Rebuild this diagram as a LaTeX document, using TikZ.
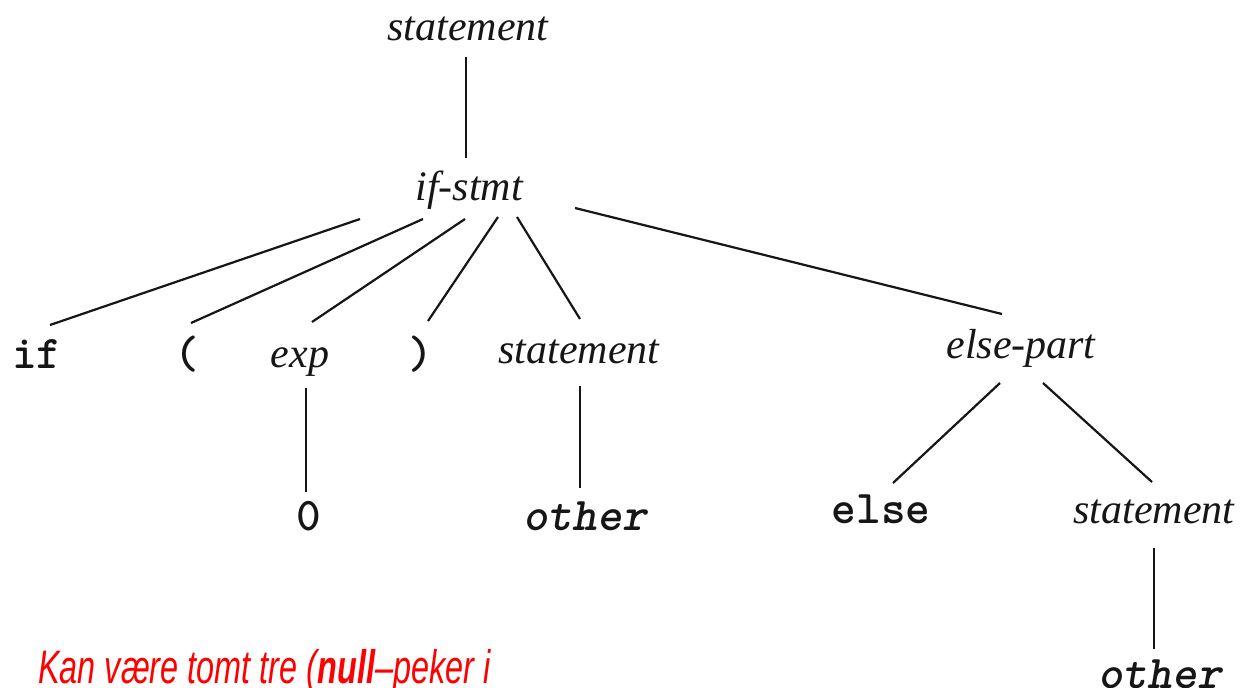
\documentclass[tikz,border=0pt]{standalone}
\usepackage{fontspec}
\setmainfont{Liberation Serif}
\newfontfamily\monof{lmmonolt10}[Extension=.otf, UprightFont=*-regular, BoldFont=*-bold, ItalicFont=*-oblique, BoldItalicFont=*-boldoblique]
\newfontfamily\redf{Liberation Sans}
\usetikzlibrary{calc}
\definecolor{ink}{HTML}{161616}
\tikzset{
  nt/.style={anchor=base, inner sep=0pt, text=ink, font=\fontsize{42}{48}\selectfont\itshape},
  tk/.style={anchor=base, inner sep=0pt, text=ink, font=\fontsize{47}{52}\selectfont\monof\bfseries},
  tki/.style={anchor=base, inner sep=0pt, text=ink, font=\fontsize{47}{52}\selectfont\monof\bfseries\itshape},
  edge/.style={draw=ink, line width=2.2pt},
  note/.style={anchor=base west, inner sep=0pt, text=red, font=\fontsize{47}{52}\selectfont\redf\itshape}
}
\begin{document}
\begin{tikzpicture}[x=1pt,y=-1pt]
\useasboundingbox (0,0) rectangle (1240,688);
\fill[white] (0,0) rectangle (1240,688);
\clip (0,0) rectangle (1240,688);
% nodes
\node[nt] (st0) at (468,40) {statement};
\node[nt] (ifs) at (469,200) {if-stmt};
\node[tk] (nif) at (37,368) {if};
\node[tk] (lp) at (187,368) {(};
\node[nt] (exp) at (300,367) {exp};
\node[tk] (rp) at (421,368) {)};
\node[nt] (st1) at (579,363) {statement};
\node[nt] (ep) at (1021,358) {else-part};
\node[tk] (zero) at (309,530) {0};
\node[tki] (oth1) at (585,530) {other};
\node[tk] (els) at (881,523) {else};
\node[nt] (st2) at (1154,523) {statement};
\node[tki] (oth2) at (1160,688) {other};
\node[note] (txt) at (38,683) {\scalebox{0.69}[1]{Kan være tomt tre (\textbf{null}–peker i}};
% connectors
\draw[edge] ($(st0.base)+(-2,17)$) -- ($(ifs.base)+(-3,-42)$);
\draw[edge] ($(ifs.base)+(-109,19)$) -- ($(nif.base)+(13,-43)$);
\draw[edge] ($(ifs.base)+(-46,19)$) -- ($(lp.base)+(4,-45)$);
\draw[edge] ($(ifs.base)+(-4,19)$) -- ($(exp.base)+(12,-45)$);
\draw[edge] ($(ifs.base)+(29,17)$) -- ($(rp.base)+(7,-47)$);
\draw[edge] ($(ifs.base)+(48,17)$) -- ($(st1.base)+(1,-44)$);
\draw[edge] ($(ifs.base)+(106,8)$) -- ($(ep.base)+(-19,-44)$);
\draw[edge] ($(exp.base)+(6,21)$) -- ($(zero.base)+(-3,-38)$);
\draw[edge] ($(st1.base)+(1,23)$) -- ($(oth1.base)+(-5,-42)$);
\draw[edge] ($(ep.base)+(-21,25)$) -- ($(els.base)+(12,-40)$);
\draw[edge] ($(ep.base)+(22,25)$) -- ($(st2.base)+(-2,-41)$);
\draw[edge] ($(st2.base)+(0,25)$) -- ($(oth2.base)+(-6,-39)$);
\end{tikzpicture}
\end{document}
